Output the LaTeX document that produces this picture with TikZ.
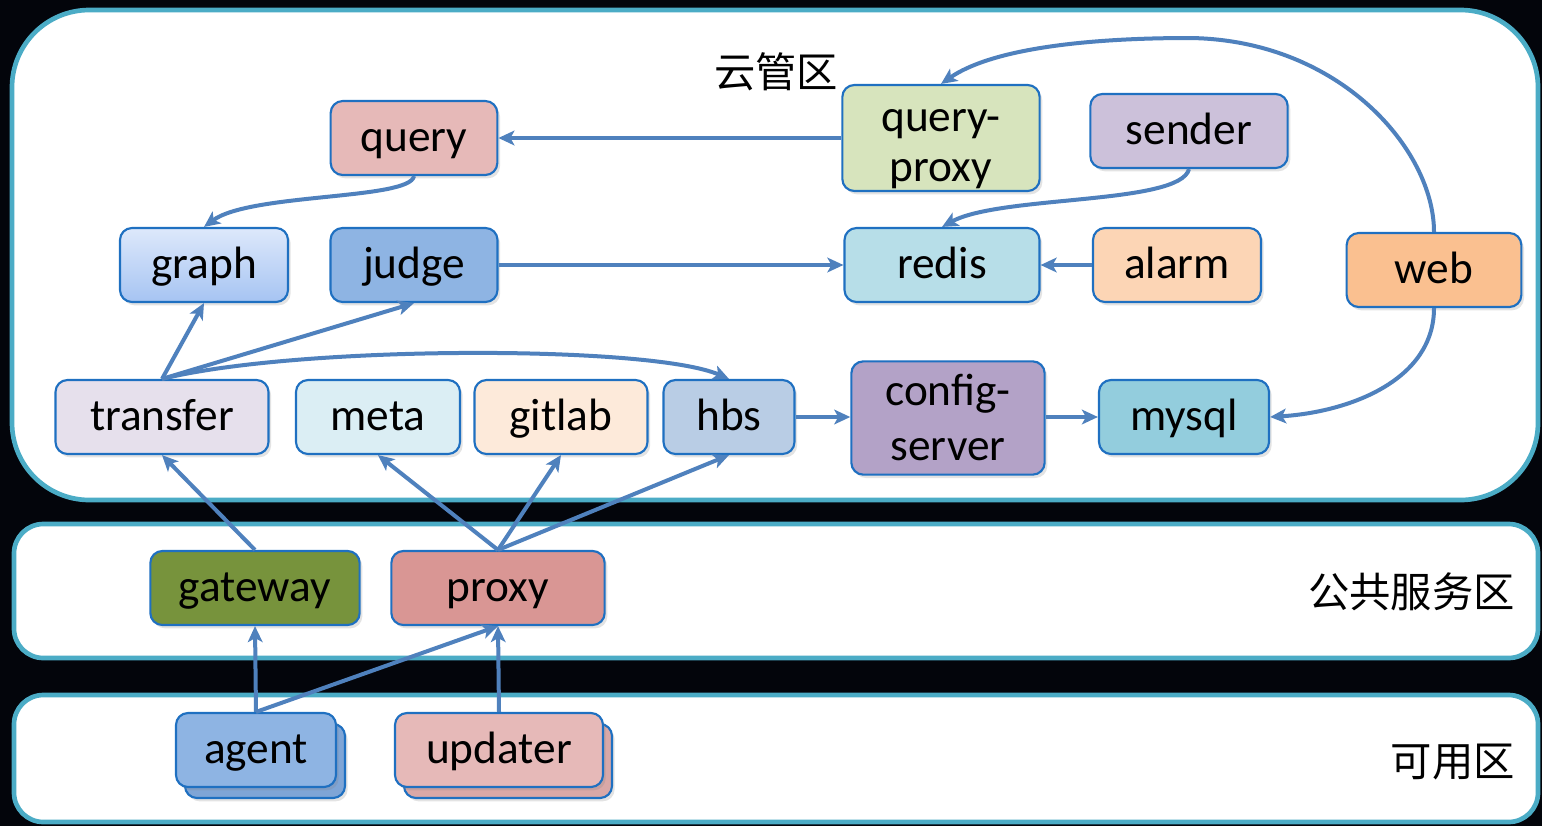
\documentclass[tikz,border=0pt]{standalone}
\usepackage{fontspec}
\setmainfont{Carlito}
\newfontfamily\cjk{Noto Sans CJK SC}
\usetikzlibrary{positioning, arrows.meta, shapes, shadows}
\usepackage{xcolor}

\definecolor{fondo}{HTML}{03050B}
\definecolor{zona}{HTML}{4BACC6}
\definecolor{borde}{HTML}{1F70C1}
\definecolor{flechazul}{HTML}{4F81BD}
\definecolor{cquery}{HTML}{E6B9B8}
\definecolor{cqp}{HTML}{D7E4BD}
\definecolor{csender}{HTML}{CCC1DA}
\definecolor{cgraphtop}{HTML}{DDE8FB}
\definecolor{cgraphbot}{HTML}{A6C4F2}
\definecolor{cjudge}{HTML}{8EB4E3}
\definecolor{credis}{HTML}{B7DEE8}
\definecolor{calarm}{HTML}{FCD5B5}
\definecolor{cweb}{HTML}{FAC090}
\definecolor{ctransfer}{HTML}{E6E0EC}
\definecolor{cmeta}{HTML}{DBEEF4}
\definecolor{cgitlab}{HTML}{FDEADA}
\definecolor{chbs}{HTML}{B9CDE5}
\definecolor{cconfig}{HTML}{B3A2C7}
\definecolor{cmysql}{HTML}{93CDDD}
\definecolor{cgateway}{HTML}{77933C}
\definecolor{cproxy}{HTML}{D99694}
\definecolor{cagent}{HTML}{8EB4E3}
\definecolor{cagentb}{HTML}{7FA5D6}
\definecolor{cupdater}{HTML}{E6B9B8}
\definecolor{cupdaterb}{HTML}{D9A8A7}

\newcommand{\alto}[1]{\rule{0pt}{#1}}
\newcommand{\hondo}{\rule[-7pt]{0pt}{0pt}}

\begin{document}
\begin{tikzpicture}[x=0.75pt, y=-0.75pt]
  \tikzstyle{area} = [draw=zona, line width=3.5pt, fill=white]
  \tikzstyle{caja} = [rectangle, draw=borde, line width=1.6pt, rounded corners=9pt,
    minimum height=55.5pt, inner sep=0pt, align=center, font=\fontsize{34}{36}\selectfont,
    drop shadow={opacity=0.22, shadow xshift=2pt, shadow yshift=-2.5pt}]
  \tikzstyle{linea} = [caja, text height=26pt, text depth=6pt]
  \tikzstyle{flecha} = [draw=flechazul, line width=3pt, -{Stealth[length=12pt, width=11pt, inset=3pt]}]
  \tikzstyle{zonatxt} = [inner sep=0pt, font=\cjk\fontsize{31}{34}\selectfont]

  \useasboundingbox (0,0) rectangle (1542,826);
  \fill[fondo] (0,0) rectangle (1542,826);

  % Zonas
  \draw[area, rounded corners=58pt] (12,10) rectangle (1538,500);
  \draw[area, rounded corners=22pt] (14,524) rectangle (1538,658);
  \draw[area, rounded corners=22pt] (14,695) rectangle (1538,822);
  \node[zonatxt] (nube) at (776,72) {云管区};
  \node[zonatxt, anchor=east] (publica) at (1515,592) {公共服务区};
  \node[zonatxt, anchor=east] (disp) at (1515,762) {可用区};

  % Primera fila
  \node[linea, fill=cquery, minimum width=125pt] (query) at (414,138) {query};
  \node[caja, fill=cqp, minimum width=148pt, minimum height=78pt,
    font=\fontsize{34}{37.5}\selectfont] (qp) at (941,138) {\alto{35pt}query-\\\hondo proxy};
  \node[linea, fill=csender, minimum width=148pt] (sender) at (1189,131) {sender};

  % Segunda fila
  \node[linea, top color=cgraphtop, bottom color=cgraphbot, minimum width=126pt] (graph) at (204,265) {graph};
  \foreach \nom/\col/\x/\w in {judge/cjudge/414/167, redis/credis/942/195, alarm/calarm/1177/168}
    \node[linea, fill=\col, minimum width=\w*0.75pt] (\nom) at (\x,265) {\nom};
  \node[linea, fill=cweb, minimum width=131pt] (web) at (1434,270) {web};

  % Tercera fila
  \foreach \nom/\col/\x/\w in {transfer/ctransfer/162/213, meta/cmeta/378/164, gitlab/cgitlab/561/173, hbs/chbs/729/131, mysql/cmysql/1184/170}
    \node[linea, fill=\col, minimum width=\w*0.75pt] (\nom) at (\x,417) {\nom};
  \node[caja, fill=cconfig, minimum width=145pt, minimum height=85pt,
    font=\fontsize{34}{41}\selectfont] (config) at (948,418) {\alto{29pt}config-\\\hondo server};

  % Servicios publicos
  \node[linea, fill=cgateway, minimum width=157pt] (gateway) at (255,588) {gateway};
  \node[linea, fill=cproxy, minimum width=160pt] (proxy) at (498,588) {proxy};

  % Zona disponible (con copia detras)
  \node[caja, fill=cagentb, minimum width=120pt] (agentb) at (265,761) {};
  \node[linea, fill=cagent, minimum width=120pt] (agent) at (256,750) {agent};
  \node[caja, fill=cupdaterb, minimum width=156pt] (updaterb) at (508,761) {};
  \node[linea, fill=cupdater, minimum width=156pt] (updater) at (499,750) {updater};

  % Conexiones
  \draw[flecha] (qp.west) -- (query.east);
  \draw[flecha] (web.north) .. controls (1434,150) and (1340,40) .. (1190,38)
    .. controls (1080,38) and (990,50) .. (qp.north);
  \draw[flecha] (sender.south) .. controls (1180,205) and (1000,195) .. (redis.north);
  \draw[flecha] (query.south) .. controls (410,200) and (250,193) .. (graph.north);
  \draw[flecha] (judge.east) -- (redis.west);
  \draw[flecha] (alarm.west) -- (redis.east);
  \draw[flecha] (transfer.north) -- (graph.south);
  \draw[flecha] (transfer.north) -- (judge.south);
  \draw[flecha] (transfer.north) .. controls (300,345) and (650,345) .. (hbs.north);
  \draw[flecha] (hbs.east) -- (hbs.east -| config.west);
  \draw[flecha] (config.east |- mysql.west) -- (mysql.west);
  \draw[flecha] (web.south) .. controls (1434,380) and (1350,412) .. (mysql.east);
  \draw[flecha] (gateway.north) -- (transfer.south);
  \foreach \dest in {meta, gitlab, hbs}
    \draw[flecha] (proxy.north) -- (\dest.south);
  \draw[flecha] (agent.north) -- (gateway.south);
  \draw[flecha] (agent.north) -- (proxy.south);
  \draw[flecha] (updater.north) -- (proxy.south);
\end{tikzpicture}
\end{document}
